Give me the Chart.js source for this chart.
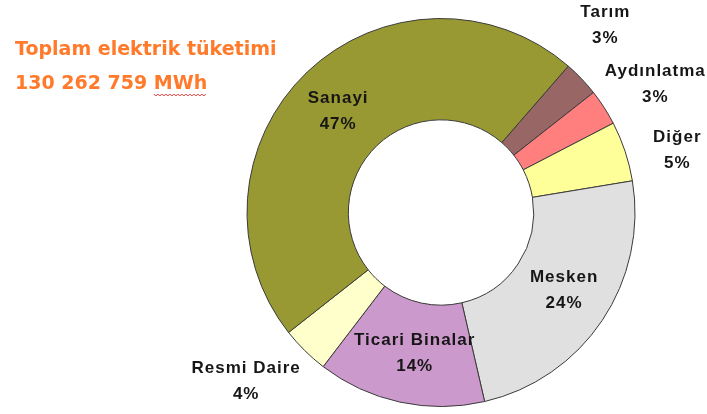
<!DOCTYPE html>
<html>
<head>
<meta charset="utf-8">
<script src="https://cdn.jsdelivr.net/npm/chart.js@4"></script>
<style>
  body { margin: 0; background: #fff; }
</style>
</head>
<body>
<canvas id="myChart" width="707" height="414"></canvas>
<script>
var categories = ['Tarım', 'Aydınlatma', 'Diğer', 'Mesken', 'Ticari Binalar', 'Resmi Daire', 'Sanayi'];
var shares = [3, 3, 5, 24, 14, 4, 47];
var colors = ['#996666', '#FF7F7F', '#FFFF99', '#E0E0E0', '#CC99CC', '#FFFFCC', '#999933'];
var titleLines = ['Toplam elektrik tüketimi', '130 262 759 MWh'];

// small hand tweaks so labels sit where the original puts them
var labelNudge = [[-16, -15], [5, 7], [0, 16], [4, -2], [4, 1], [-20, -8], [-4, 3]];

var sliceLabels = {
    id: 'sliceLabels',
    afterDatasetsDraw: function (chart) {
        var ctx = chart.ctx;
        var meta = chart.getDatasetMeta(0);
        ctx.save();
        ctx.font = 'bold 17px "Liberation Sans", Arial, sans-serif';
        ctx.letterSpacing = '1px';
        ctx.fillStyle = '#161616';
        ctx.textAlign = 'center';
        ctx.textBaseline = 'middle';
        meta.data.forEach(function (arc, i) {
            var p = arc.getProps(['x', 'y', 'startAngle', 'endAngle', 'innerRadius', 'outerRadius']);
            var mid = (p.startAngle + p.endAngle) / 2;
            var r = shares[i] <= 5 ? p.outerRadius + 55 : (p.innerRadius + p.outerRadius) / 2;
            var x = p.x + Math.cos(mid) * r + labelNudge[i][0];
            var y = p.y + Math.sin(mid) * r + labelNudge[i][1];
            ctx.fillText(categories[i], x, y - 13);
            ctx.fillText(shares[i] + '%', x, y + 13);
        });
        ctx.restore();

        // title block, top left
        ctx.save();
        ctx.font = 'bold 19px "DejaVu Sans", sans-serif';
        ctx.fillStyle = '#FF7A2A';
        ctx.textAlign = 'left';
        ctx.textBaseline = 'alphabetic';
        ctx.fillText(titleLines[0], 15, 55);
        ctx.fillText(titleLines[1], 15, 89);
        // red spell-check squiggle under "MWh"
        var before = ctx.measureText(titleLines[1].replace(/MWh$/, '')).width;
        var w = ctx.measureText('MWh').width;
        ctx.strokeStyle = '#E03C3C';
        ctx.lineWidth = 1;
        ctx.beginPath();
        for (var sx = 0; sx <= w; sx += 2) {
            var sy = 95 + ((sx / 2) % 2 === 0 ? -1 : 1);
            if (sx === 0) ctx.moveTo(15 + before + sx, sy); else ctx.lineTo(15 + before + sx, sy);
        }
        ctx.stroke();
        ctx.restore();
    }
};

var ctx = document.getElementById('myChart').getContext('2d');
var myChart = new Chart(ctx, {
    type: 'doughnut',
    data: {
        labels: categories,
        datasets: [{
            data: shares,
            backgroundColor: colors,
            borderColor: '#3a3a3a',
            borderWidth: 1
        }]
    },
    options: {
        responsive: false,
        animation: false,
        rotation: 41,
        radius: 194,
        cutout: 96,
        layout: {
            padding: { left: 175, right: 0, top: 11, bottom: 0 }
        },
        plugins: {
            legend: { display: false },
            tooltip: { enabled: false }
        }
    },
    plugins: [sliceLabels]
});
</script>
</body>
</html>
